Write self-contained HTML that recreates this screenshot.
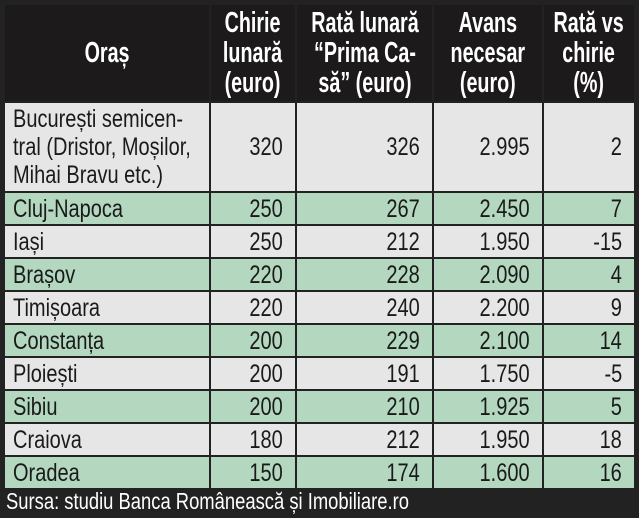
<!DOCTYPE html>
<html><head><meta charset="utf-8"><style>
body{margin:0;width:639px;height:518px;background:#222;position:relative;overflow:hidden;font-family:"Liberation Sans",sans-serif;}
.c{position:absolute;box-sizing:border-box;display:flex;align-items:center;font-size:25px;color:#1a1a1a;line-height:28px;white-space:nowrap}
.c span{display:inline-block;transform:scaleX(0.8)}
.h{background:#1c1a1a;color:#fff;font-weight:bold;font-size:29px;line-height:30px;justify-content:center;text-align:center;}
.h span{transform:scaleX(0.68)}
.g{background:#b3d7bf}.l{background:#e6e6e6}
.r{justify-content:flex-end;padding-right:12px}
.r span{transform-origin:right center}
.t{padding-left:8px}
.t span{transform-origin:left center}
.f{position:absolute;left:6px;top:488px;color:#fff;font-size:23px;white-space:nowrap;transform:scaleX(0.8);transform-origin:left center}
</style></head><body>
<div class="c h" style="left:5px;top:5px;width:204px;height:96px"><span>Oraș</span></div>
<div class="c h" style="left:211px;top:5px;width:84px;height:96px"><span>Chirie<br>lunară<br>(euro)</span></div>
<div class="c h" style="left:297px;top:5px;width:135px;height:96px"><span>Rată lunară<br>“Prima Ca-<br>să” (euro)</span></div>
<div class="c h" style="left:434px;top:5px;width:108px;height:96px"><span>Avans<br>necesar<br>(euro)</span></div>
<div class="c h" style="left:544px;top:5px;width:90px;height:96px"><span>Rată vs<br>chirie<br>(%)</span></div>

<div class="c l t" style="left:5px;top:103px;width:204px;height:88px"><span>București semicen-<br>tral (Dristor, Moșilor,<br>Mihai Bravu etc.)</span></div>
<div class="c l r" style="left:211px;top:103px;width:84px;height:88px"><span>320</span></div>
<div class="c l r" style="left:297px;top:103px;width:135px;height:88px"><span>326</span></div>
<div class="c l r" style="left:434px;top:103px;width:108px;height:88px"><span>2.995</span></div>
<div class="c l r" style="left:544px;top:103px;width:90px;height:88px"><span>2</span></div>

<div class="c g t" style="left:5px;top:193px;width:204px;height:31px"><span>Cluj-Napoca</span></div>
<div class="c g r" style="left:211px;top:193px;width:84px;height:31px"><span>250</span></div>
<div class="c g r" style="left:297px;top:193px;width:135px;height:31px"><span>267</span></div>
<div class="c g r" style="left:434px;top:193px;width:108px;height:31px"><span>2.450</span></div>
<div class="c g r" style="left:544px;top:193px;width:90px;height:31px"><span>7</span></div>

<div class="c l t" style="left:5px;top:226px;width:204px;height:31px"><span>Iași</span></div>
<div class="c l r" style="left:211px;top:226px;width:84px;height:31px"><span>250</span></div>
<div class="c l r" style="left:297px;top:226px;width:135px;height:31px"><span>212</span></div>
<div class="c l r" style="left:434px;top:226px;width:108px;height:31px"><span>1.950</span></div>
<div class="c l r" style="left:544px;top:226px;width:90px;height:31px"><span>-15</span></div>

<div class="c g t" style="left:5px;top:259px;width:204px;height:31px"><span>Brașov</span></div>
<div class="c g r" style="left:211px;top:259px;width:84px;height:31px"><span>220</span></div>
<div class="c g r" style="left:297px;top:259px;width:135px;height:31px"><span>228</span></div>
<div class="c g r" style="left:434px;top:259px;width:108px;height:31px"><span>2.090</span></div>
<div class="c g r" style="left:544px;top:259px;width:90px;height:31px"><span>4</span></div>

<div class="c l t" style="left:5px;top:292px;width:204px;height:31px"><span>Timișoara</span></div>
<div class="c l r" style="left:211px;top:292px;width:84px;height:31px"><span>220</span></div>
<div class="c l r" style="left:297px;top:292px;width:135px;height:31px"><span>240</span></div>
<div class="c l r" style="left:434px;top:292px;width:108px;height:31px"><span>2.200</span></div>
<div class="c l r" style="left:544px;top:292px;width:90px;height:31px"><span>9</span></div>

<div class="c g t" style="left:5px;top:325px;width:204px;height:31px"><span>Constanța</span></div>
<div class="c g r" style="left:211px;top:325px;width:84px;height:31px"><span>200</span></div>
<div class="c g r" style="left:297px;top:325px;width:135px;height:31px"><span>229</span></div>
<div class="c g r" style="left:434px;top:325px;width:108px;height:31px"><span>2.100</span></div>
<div class="c g r" style="left:544px;top:325px;width:90px;height:31px"><span>14</span></div>

<div class="c l t" style="left:5px;top:358px;width:204px;height:31px"><span>Ploiești</span></div>
<div class="c l r" style="left:211px;top:358px;width:84px;height:31px"><span>200</span></div>
<div class="c l r" style="left:297px;top:358px;width:135px;height:31px"><span>191</span></div>
<div class="c l r" style="left:434px;top:358px;width:108px;height:31px"><span>1.750</span></div>
<div class="c l r" style="left:544px;top:358px;width:90px;height:31px"><span>-5</span></div>

<div class="c g t" style="left:5px;top:391px;width:204px;height:31px"><span>Sibiu</span></div>
<div class="c g r" style="left:211px;top:391px;width:84px;height:31px"><span>200</span></div>
<div class="c g r" style="left:297px;top:391px;width:135px;height:31px"><span>210</span></div>
<div class="c g r" style="left:434px;top:391px;width:108px;height:31px"><span>1.925</span></div>
<div class="c g r" style="left:544px;top:391px;width:90px;height:31px"><span>5</span></div>

<div class="c l t" style="left:5px;top:424px;width:204px;height:31px"><span>Craiova</span></div>
<div class="c l r" style="left:211px;top:424px;width:84px;height:31px"><span>180</span></div>
<div class="c l r" style="left:297px;top:424px;width:135px;height:31px"><span>212</span></div>
<div class="c l r" style="left:434px;top:424px;width:108px;height:31px"><span>1.950</span></div>
<div class="c l r" style="left:544px;top:424px;width:90px;height:31px"><span>18</span></div>

<div class="c g t" style="left:5px;top:457px;width:204px;height:31px"><span>Oradea</span></div>
<div class="c g r" style="left:211px;top:457px;width:84px;height:31px"><span>150</span></div>
<div class="c g r" style="left:297px;top:457px;width:135px;height:31px"><span>174</span></div>
<div class="c g r" style="left:434px;top:457px;width:108px;height:31px"><span>1.600</span></div>
<div class="c g r" style="left:544px;top:457px;width:90px;height:31px"><span>16</span></div>

<div class="f">Sursa: studiu Banca Românească și Imobiliare.ro</div>
</body></html>
